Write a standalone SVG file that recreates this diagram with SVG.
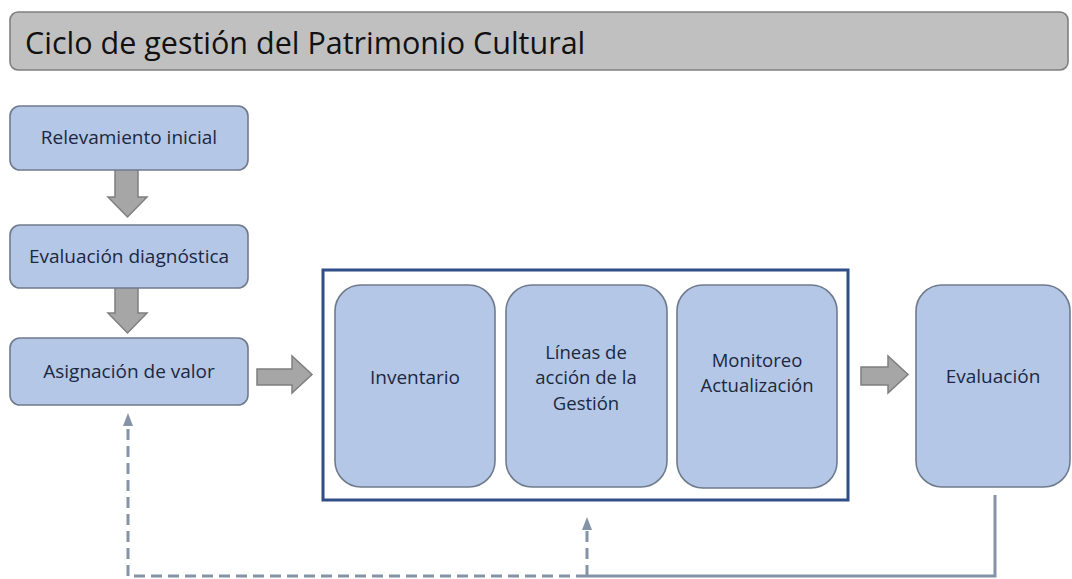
<svg xmlns="http://www.w3.org/2000/svg" width="1072" height="579" viewBox="0 0 1072 579">
<defs>
<style>
.box{fill:#b4c7e7;stroke:#6f7b8c;stroke-width:1.6}
.lbl{font-family:"Open Sans","Liberation Sans",sans-serif;font-size:19px;fill:#1c2740;text-anchor:middle}
.ml{font-size:18.5px}
.blk{fill:#a6a6a6;stroke:#7f7f7f;stroke-width:1.5}
.ln{fill:none;stroke:#8593a7;stroke-width:3}
.dash{stroke-dasharray:11 6}
.head{fill:#8593a7}
</style>
</defs>
<rect width="1072" height="579" fill="#ffffff"/>
<g id="title">
<rect x="10" y="12" width="1058" height="58" rx="8" fill="#c0c0c0" stroke="#7f7f7f" stroke-width="1.6"/>
<text x="25" y="54" style="font-family:'Open Sans','Liberation Sans',sans-serif;font-size:30.5px;fill:#111111">Ciclo de gestión del Patrimonio Cultural</text>
</g>
<g id="connectors">
<path class="blk" d="M115,164 H138 V197 H147 L127.5,217 L108,197 H115 Z"/>
<path class="blk" d="M115,280 H138 V313 H147 L127.5,333 L108,313 H115 Z"/>
<path class="blk" d="M257,369 H292 V356 L312,374.5 L292,393 V385 H257 Z"/>
<path class="blk" d="M861,367 H888 V356 L908,374.5 L888,393 V385 H861 Z"/>
<path class="ln" d="M995,495 V576 H587"/>
<path class="ln dash" d="M587,576 H128 V425"/>
<path class="head" d="M123,426 L128,413 L133,426 Z"/>
<path class="ln dash" d="M587,576 V529"/>
<path class="head" d="M582,530 L587,517 L592,530 Z"/>
</g>
<g id="relevamiento">
<rect class="box" x="10" y="106" width="238" height="64" rx="10"/>
<text class="lbl" x="129" y="144">Relevamiento inicial</text>
</g>
<g id="evaluacion-diagnostica">
<rect class="box" x="10" y="225" width="238" height="63" rx="10"/>
<text class="lbl" x="129" y="263">Evaluación diagnóstica</text>
</g>
<g id="asignacion">
<rect class="box" x="10" y="338" width="238" height="67" rx="10"/>
<text class="lbl" x="129" y="378">Asignación de valor</text>
</g>
<g id="gestion-frame">
<rect x="323" y="270" width="525" height="230" fill="none" stroke="#2f4f86" stroke-width="3"/>
</g>
<g id="inventario">
<rect class="box" x="335" y="285" width="160" height="202" rx="26"/>
<text class="lbl" x="415" y="384">Inventario</text>
</g>
<g id="lineas">
<rect class="box" x="506" y="285" width="161" height="202" rx="26"/>
<text class="lbl ml" x="586" y="358.5">Líneas de</text>
<text class="lbl ml" x="586" y="384">acción de la</text>
<text class="lbl ml" x="586" y="409.5">Gestión</text>
</g>
<g id="monitoreo">
<rect class="box" x="677" y="285" width="160" height="203" rx="26"/>
<text class="lbl ml" x="757" y="366.5">Monitoreo</text>
<text class="lbl ml" x="757" y="392">Actualización</text>
</g>
<g id="evaluacion">
<rect class="box" x="916" y="285" width="154" height="202" rx="26"/>
<text class="lbl" x="993" y="383">Evaluación</text>
</g>
</svg>
